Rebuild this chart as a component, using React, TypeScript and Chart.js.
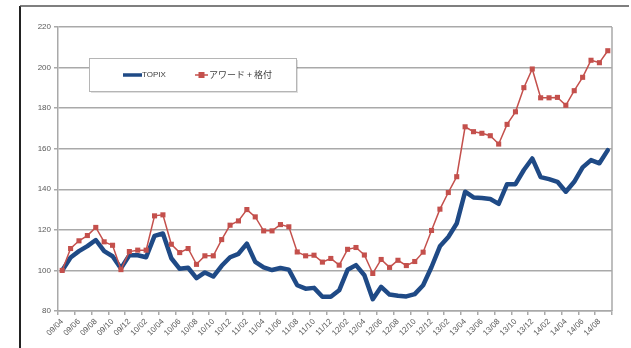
import { useEffect, useRef } from 'react';
import { Chart, registerables } from 'chart.js';

Chart.register(...registerables);

const months = [
  '09/04', '09/05', '09/06', '09/07', '09/08', '09/09', '09/10', '09/11', '09/12',
  '10/01', '10/02', '10/03', '10/04', '10/05', '10/06', '10/07', '10/08', '10/09', '10/10', '10/11', '10/12',
  '11/01', '11/02', '11/03', '11/04', '11/05', '11/06', '11/07', '11/08', '11/09', '11/10', '11/11', '11/12',
  '12/01', '12/02', '12/03', '12/04', '12/05', '12/06', '12/07', '12/08', '12/09', '12/10', '12/11', '12/12',
  '13/01', '13/02', '13/03', '13/04', '13/05', '13/06', '13/07', '13/08', '13/09', '13/10', '13/11', '13/12',
  '14/01', '14/02', '14/03', '14/04', '14/05', '14/06', '14/07', '14/08', '14/09',
];

const topix = [
  100, 106.4, 109.5, 112, 115, 109.5, 107, 101, 107.5, 107.5, 106.5, 117, 118.2,
  106, 100.8, 101.3, 96.2, 99, 97, 102.3, 106.5, 108.2, 113.2, 104.2, 101.5, 100.2,
  101.2, 100.4, 92.7, 91, 91.4, 87, 87, 90.2, 100.3, 102.6, 97.6, 85.8, 91.9, 88.1,
  87.5, 87.2, 88.3, 92.7, 101.7, 111.9, 116.5, 123.1, 138.8, 136, 135.7, 135.2, 132.8,
  142.5, 142.5, 149.5, 155.2, 146, 145, 143.7, 138.8, 143.7, 150.8, 154.4, 152.8, 159.3,
];

const award = [
  100, 110.8, 114.6, 117.2, 121.2, 114.1, 112.4, 100.4, 109.3, 110, 110, 126.9, 127.4,
  112.9, 108.8, 110.8, 103, 107.2, 107.2, 115.2, 122.3, 124.4, 130, 126.4, 119.5, 119.5,
  122.6, 121.5, 109.1, 107.2, 107.5, 104.1, 105.9, 102.6, 110.4, 111.3, 107.6, 98.5, 105.4, 101.5,
  105, 102.4, 104.4, 109, 119.7, 130.2, 138.4, 146.2, 170.8, 168.4, 167.6, 166.4, 162.3,
  172, 178.2, 190.1, 199.3, 185.1, 185.1, 185.3, 181.4, 188.6, 195.2, 203.6, 202.4, 208.3,
];

const seriesNames = ['TOPIX', 'アワード + 格付'];
const yMin = 80;
const yMax = 220;
const yStep = 20;

const BLUE = '#1f4a86';
const RED = '#c4504c';
const GRID = '#a9a9a9';
const TEXT = '#595959';
const FONT = '"Liberation Sans", "Noto Sans", sans-serif';
const JFONT = '"Noto Sans CJK JP", "Liberation Sans", sans-serif';

const decorPlugin = {
  id: 'decor',
  afterDraw(chart: any) {
    const { ctx, chartArea: a } = chart;
    ctx.save();
    // right border of plot area
    ctx.strokeStyle = GRID;
    ctx.lineWidth = 1.5;
    ctx.beginPath();
    ctx.moveTo(a.right, a.top);
    ctx.lineTo(a.right, a.bottom);
    ctx.stroke();

    // outer frame (left and top)
    ctx.strokeStyle = '#222';
    ctx.lineWidth = 2;
    ctx.beginPath();
    ctx.moveTo(20, 348);
    ctx.lineTo(20, 6);
    ctx.stroke();
    ctx.strokeStyle = '#555';
    ctx.lineWidth = 1.5;
    ctx.beginPath();
    ctx.moveTo(20, 6);
    ctx.lineTo(629, 6);
    ctx.stroke();

    // legend box
    const lx = 89, ly = 58, lw = 207, lh = 33;
    ctx.fillStyle = 'rgba(0,0,0,0.12)';
    ctx.fillRect(lx + 2, ly + 2, lw, lh);
    ctx.fillStyle = '#ffffff';
    ctx.fillRect(lx, ly, lw, lh);
    ctx.strokeStyle = '#b5b5b5';
    ctx.lineWidth = 1;
    ctx.strokeRect(lx + 0.5, ly + 0.5, lw, lh);

    const cy = ly + 17;
    ctx.strokeStyle = BLUE;
    ctx.lineWidth = 3.5;
    ctx.beginPath();
    ctx.moveTo(123, cy);
    ctx.lineTo(142, cy);
    ctx.stroke();
    ctx.fillStyle = '#404040';
    ctx.font = `8px ${FONT}`;
    ctx.textBaseline = 'middle';
    ctx.textAlign = 'left';
    ctx.fillText(seriesNames[0], 142, cy);

    ctx.strokeStyle = RED;
    ctx.lineWidth = 1.5;
    ctx.beginPath();
    ctx.moveTo(195, cy);
    ctx.lineTo(208, cy);
    ctx.stroke();
    ctx.fillStyle = RED;
    ctx.fillRect(198.5, cy - 3, 6, 6);
    ctx.fillStyle = '#404040';
    ctx.font = `9px ${JFONT}`;
    ctx.fillText(seriesNames[1], 209, cy);
    ctx.restore();
  },
};

export default function App() {
  const ref = useRef<HTMLCanvasElement>(null);

  useEffect(() => {
    if (!ref.current) return;
    const chart = new Chart(ref.current, {
      type: 'line',
      data: {
        labels: months,
        datasets: [
          {
            label: seriesNames[0],
            data: topix,
            borderColor: BLUE,
            backgroundColor: BLUE,
            borderWidth: 4.5,
            pointRadius: 0,
            tension: 0,
            borderJoinStyle: 'round',
            borderCapStyle: 'round',
            order: 2,
          },
          {
            label: seriesNames[1],
            data: award,
            borderColor: RED,
            backgroundColor: RED,
            borderWidth: 1.5,
            pointStyle: 'rect',
            pointRadius: 3.6,
            pointBorderWidth: 0,
            pointBackgroundColor: RED,
            tension: 0,
            order: 1,
          },
        ],
      },
      options: {
        responsive: false,
        animation: false,
        layout: { padding: { left: 0, top: 27, right: 19, bottom: 0 } },
        plugins: {
          legend: { display: false },
          tooltip: { enabled: false },
        },
        scales: {
          x: {
            offset: true,
            grid: {
              offset: true,
              drawOnChartArea: false,
              drawTicks: true,
              tickLength: 4,
              lineWidth: 1.5,
              tickColor: (c: any) =>
                c.index === undefined || c.index % 2 === 0 ? GRID : 'rgba(0,0,0,0)',
              color: (c: any) =>
                c.index === undefined || c.index % 2 === 0 ? GRID : 'rgba(0,0,0,0)',
            },
            border: { color: GRID, width: 1.5 },
            ticks: {
              autoSkip: false,
              minRotation: 45,
              maxRotation: 45,
              padding: 2,
              color: TEXT,
              font: { size: 8, family: FONT },
              callback: (_v: any, i: number) => (i % 2 === 0 ? months[i] : ''),
            },
            afterFit: (s: any) => {
              s.height = 37;
            },
          },
          y: {
            min: yMin,
            max: yMax,
            grid: { color: GRID, lineWidth: 1.5, tickLength: 4, drawTicks: true },
            border: { color: GRID, width: 1.5 },
            ticks: {
              stepSize: yStep,
              padding: 3,
              color: TEXT,
              font: { size: 8, family: FONT },
            },
            afterFit: (s: any) => {
              s.width = 58;
            },
          },
        },
      },
      plugins: [decorPlugin],
    });
    return () => chart.destroy();
  }, []);

  return (
    <div style={{ position: 'absolute', left: 0, top: 0, width: 631, height: 348, background: '#fff' }}>
      <canvas ref={ref} width={631} height={348} style={{ display: 'block' }} />
    </div>
  );
}
